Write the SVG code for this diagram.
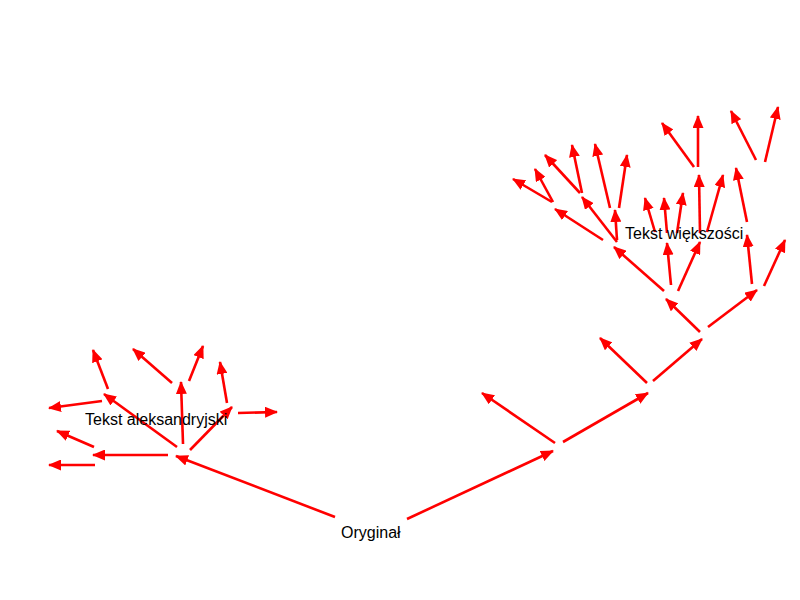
<svg xmlns="http://www.w3.org/2000/svg" width="800" height="600" viewBox="0 0 800 600">
<defs>
<style>
.lbl{font-family:"Liberation Sans",Arial,Helvetica,sans-serif;font-size:16px;fill:#000}
.a{stroke:#ff0000;stroke-width:2.6;fill:none;marker-end:url(#ah)}
</style>
<marker id="ah" viewBox="0 0 13 11" refX="12" refY="5.5" markerWidth="13" markerHeight="11" markerUnits="userSpaceOnUse" orient="auto">
<path d="M0,0 L13,5.5 L0,11 z" fill="#ff0000"/>
</marker>
</defs>
<rect width="800" height="600" fill="#fff"/>
<g id="connectors">
<line class="a" x1="335" y1="517" x2="176" y2="456"/>
<line class="a" x1="168" y1="455" x2="93" y2="455"/>
<line class="a" x1="95" y1="465" x2="49" y2="465"/>
<line class="a" x1="94" y1="447" x2="57" y2="431"/>
<line class="a" x1="102" y1="401" x2="49" y2="408"/>
<line class="a" x1="177" y1="447" x2="104" y2="394"/>
<line class="a" x1="108" y1="389" x2="93" y2="350"/>
<line class="a" x1="172" y1="383" x2="133" y2="349"/>
<line class="a" x1="183" y1="444" x2="181" y2="382"/>
<line class="a" x1="189" y1="381" x2="203" y2="346"/>
<line class="a" x1="190" y1="450" x2="232" y2="407"/>
<line class="a" x1="227" y1="403" x2="220" y2="362"/>
<line class="a" x1="238" y1="413" x2="277" y2="412"/>
<line class="a" x1="407" y1="519" x2="553" y2="451"/>
<line class="a" x1="555" y1="443" x2="482" y2="393"/>
<line class="a" x1="563" y1="442" x2="648" y2="393"/>
<line class="a" x1="647" y1="383" x2="600" y2="338"/>
<line class="a" x1="653" y1="381" x2="702" y2="339"/>
<line class="a" x1="700" y1="332" x2="666" y2="299"/>
<line class="a" x1="708" y1="327" x2="757" y2="290"/>
<line class="a" x1="664" y1="291" x2="614" y2="247"/>
<line class="a" x1="671" y1="285" x2="667" y2="243"/>
<line class="a" x1="678" y1="291" x2="700" y2="242"/>
<line class="a" x1="752" y1="284" x2="747" y2="235"/>
<line class="a" x1="764" y1="286" x2="785" y2="240"/>
<line class="a" x1="603" y1="240" x2="555" y2="209"/>
<line class="a" x1="617" y1="242" x2="582" y2="197"/>
<line class="a" x1="617" y1="240" x2="615" y2="210"/>
<line class="a" x1="552" y1="202" x2="513" y2="179"/>
<line class="a" x1="553" y1="202" x2="535" y2="169"/>
<line class="a" x1="580" y1="193" x2="545" y2="155"/>
<line class="a" x1="582" y1="193" x2="572" y2="145"/>
<line class="a" x1="610" y1="208" x2="595" y2="144"/>
<line class="a" x1="619" y1="208" x2="627" y2="155"/>
<line class="a" x1="655" y1="232" x2="645" y2="198"/>
<line class="a" x1="667" y1="233" x2="664" y2="198"/>
<line class="a" x1="677" y1="233" x2="683" y2="193"/>
<line class="a" x1="700" y1="233" x2="699" y2="175"/>
<line class="a" x1="707" y1="232" x2="723" y2="175"/>
<line class="a" x1="694" y1="167" x2="662" y2="123"/>
<line class="a" x1="698" y1="167" x2="698" y2="116"/>
<line class="a" x1="747" y1="222" x2="736" y2="168"/>
<line class="a" x1="756" y1="160" x2="731" y2="111"/>
<line class="a" x1="765" y1="162" x2="778" y2="107"/>
</g>
<g id="node-oryginal"><text class="lbl" x="341" y="538">Oryginał</text></g>
<g id="node-aleksandryjski"><text class="lbl" x="85" y="425">Tekst aleksandryjski</text></g>
<g id="node-wiekszosci"><text class="lbl" x="625" y="239">Tekst większości</text></g>
</svg>
